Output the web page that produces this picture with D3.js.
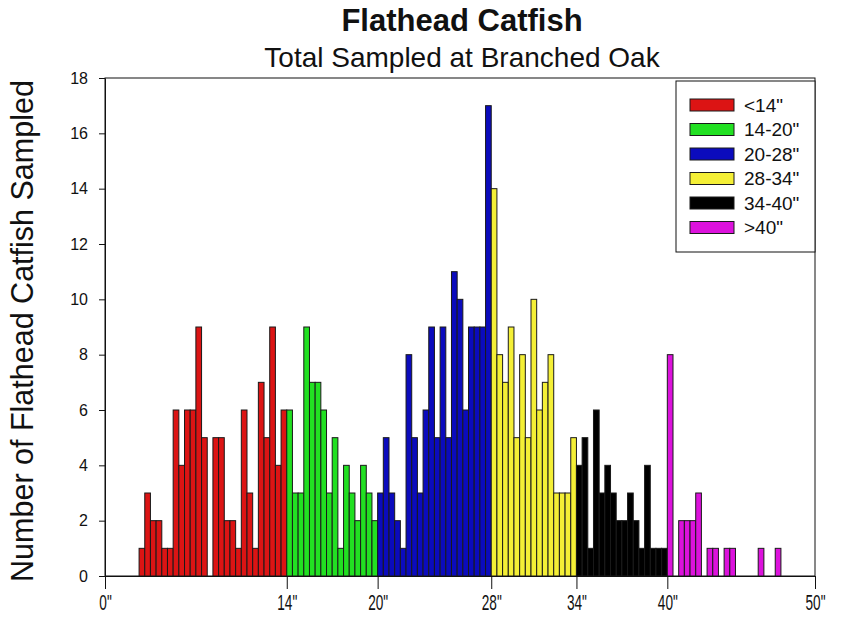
<!DOCTYPE html>
<html lang="en">
<head>
    <meta charset="UTF-8">
    <title>Flathead Catfish - Total Sampled at Branched Oak</title>
    <script src="https://d3js.org/d3.v7.min.js"></script>
    <style>
        body { margin: 0; background: #fff; }
        text { font-family: "Liberation Sans", Arial, sans-serif; fill: #111; }
    </style>
</head>
<body>
    <svg id="chart" width="843" height="619"></svg>

    <script>
        // Length classes (legend) and the counts per length bin for each class
        const sizeClasses = ['<14"', '14-20"', '20-28"', '28-34"', '34-40"', '>40"'];
        const under14 = [1, 3, 2, 2, 1, 1, 6, 4, 6, 6, 9, 5, 0, 5, 5, 2, 2, 1, 6, 3, 1, 7, 5, 9, 4, 6];
        const from14to20 = [6, 3, 3, 9, 7, 7, 6, 3, 5, 1, 4, 3, 2, 4, 3, 2];
        const from20to28 = [3, 5, 3, 2, 1, 8, 5, 3, 6, 9, 5, 9, 5, 11, 10, 6, 9, 9, 9, 17];
        const from28to34 = [14, 8, 7, 9, 5, 8, 5, 10, 6, 7, 8, 3, 3, 3, 5];
        const from34to40 = [4, 5, 1, 6, 3, 4, 3, 2, 2, 3, 2, 1, 4, 1, 1, 1];
        const over40 = [8, 0, 2, 2, 2, 3, 0, 1, 1, 0, 1, 1, 0, 0, 0, 0, 1, 0, 0, 1, 0, 0, 0, 0, 0, 0];
        // first bin of each class on the bin axis
        const classStartBin = [6, 32, 48, 68, 83, 99];
        const totalBins = 125;

        // x axis ticks sit on the class boundaries
        const xTickBins = [0, 32, 48, 68, 83, 99, 125];
        const xTickLabels = ['0"', '14"', '20"', '28"', '34"', '40"', '50"'];
        const yTicks = [0, 2, 4, 6, 8, 10, 12, 14, 16, 18];

        const classColors = ['#dc1414', '#22e022', '#0b0bbd', '#f4ef36', '#000000', '#dc12dc'];

        const classCounts = [under14, from14to20, from20to28, from28to34, from34to40, over40];

        const svg = d3.select('#chart');
        const margin = { top: 78, right: 28, bottom: 43, left: 105 };
        const width = +svg.attr('width');
        const height = +svg.attr('height');

        const x = d3.scaleLinear()
            .domain([0, totalBins])
            .range([margin.left, width - margin.right]);

        const y = d3.scaleLinear()
            .domain([0, 18])
            .range([height - margin.bottom, margin.top]);

        // flatten into one list of bars
        const bars = [];
        classCounts.forEach((counts, c) => {
            counts.forEach((v, i) => {
                if (v > 0) bars.push({ bin: classStartBin[c] + i, value: v, cls: c });
            });
        });

        // plot frame
        svg.append('rect')
            .attr('x', x(0))
            .attr('y', y(18))
            .attr('width', x(totalBins) - x(0))
            .attr('height', y(0) - y(18))
            .attr('fill', 'none')
            .attr('stroke', '#111')
            .attr('stroke-width', 1);

        svg.append('g')
            .selectAll('rect')
            .data(bars)
            .enter().append('rect')
            .attr('x', d => x(d.bin))
            .attr('y', d => y(d.value))
            .attr('width', d => x(d.bin + 1) - x(d.bin))
            .attr('height', d => y(0) - y(d.value))
            .attr('fill', d => classColors[d.cls])
            .attr('stroke', '#1a1a1a')
            .attr('stroke-width', 1);

        // x axis (labels are tall and narrow in the original)
        const xAxis = svg.append('g')
            .attr('transform', `translate(0,${y(0)})`)
            .call(d3.axisBottom(x)
                .tickValues(xTickBins)
                .tickFormat((d, i) => xTickLabels[i])
                .tickSize(13)
                .tickSizeOuter(0)
                .tickPadding(5));
        xAxis.selectAll('text')
            .style('font-size', '22px')
            .attr('transform', 'scale(0.62,1)')
            .attr('fill', '#111');
        xAxis.selectAll('line, path').attr('stroke', '#111');

        // y axis
        const yAxis = svg.append('g')
            .attr('transform', `translate(${x(0)},0)`)
            .call(d3.axisLeft(y)
                .tickValues(yTicks)
                .tickSize(6)
                .tickSizeOuter(0)
                .tickPadding(11));
        yAxis.selectAll('text').style('font-size', '16px').attr('fill', '#111');
        yAxis.selectAll('line, path').attr('stroke', '#111');

        // titles
        const midX = (x(0) + x(totalBins)) / 2;
        svg.append('text')
            .attr('x', midX + 2)
            .attr('y', 31)
            .attr('text-anchor', 'middle')
            .style('font-size', '31px')
            .style('font-weight', 'bold')
            .text('Flathead Catfish');

        svg.append('text')
            .attr('x', midX + 2)
            .attr('y', 67)
            .attr('text-anchor', 'middle')
            .style('font-size', '28px')
            .text('Total Sampled at Branched Oak');

        svg.append('text')
            .attr('transform', `translate(33,${(y(0) + y(18)) / 2 + 4}) rotate(-90)`)
            .attr('text-anchor', 'middle')
            .style('font-size', '30.5px')
            .text('Number of Flathead Catfish Sampled');

        // legend
        const legend = svg.append('g');
        legend.append('rect')
            .attr('x', 676)
            .attr('y', 81)
            .attr('width', x(totalBins) - 676)
            .attr('height', 171)
            .attr('fill', '#fff')
            .attr('stroke', '#111');

        const item = legend.selectAll('.legend-item')
            .data(sizeClasses)
            .enter().append('g')
            .attr('class', 'legend-item')
            .attr('transform', (d, i) => `translate(690,${99 + i * 24.5})`);

        item.append('rect')
            .attr('width', 44)
            .attr('height', 12)
            .attr('fill', (d, i) => classColors[i])
            .attr('stroke', '#1a1a1a');

        item.append('text')
            .attr('x', 54)
            .attr('y', 6)
            .attr('dy', '0.35em')
            .style('font-size', '19px')
            .text(d => d);
    </script>
</body>
</html>
